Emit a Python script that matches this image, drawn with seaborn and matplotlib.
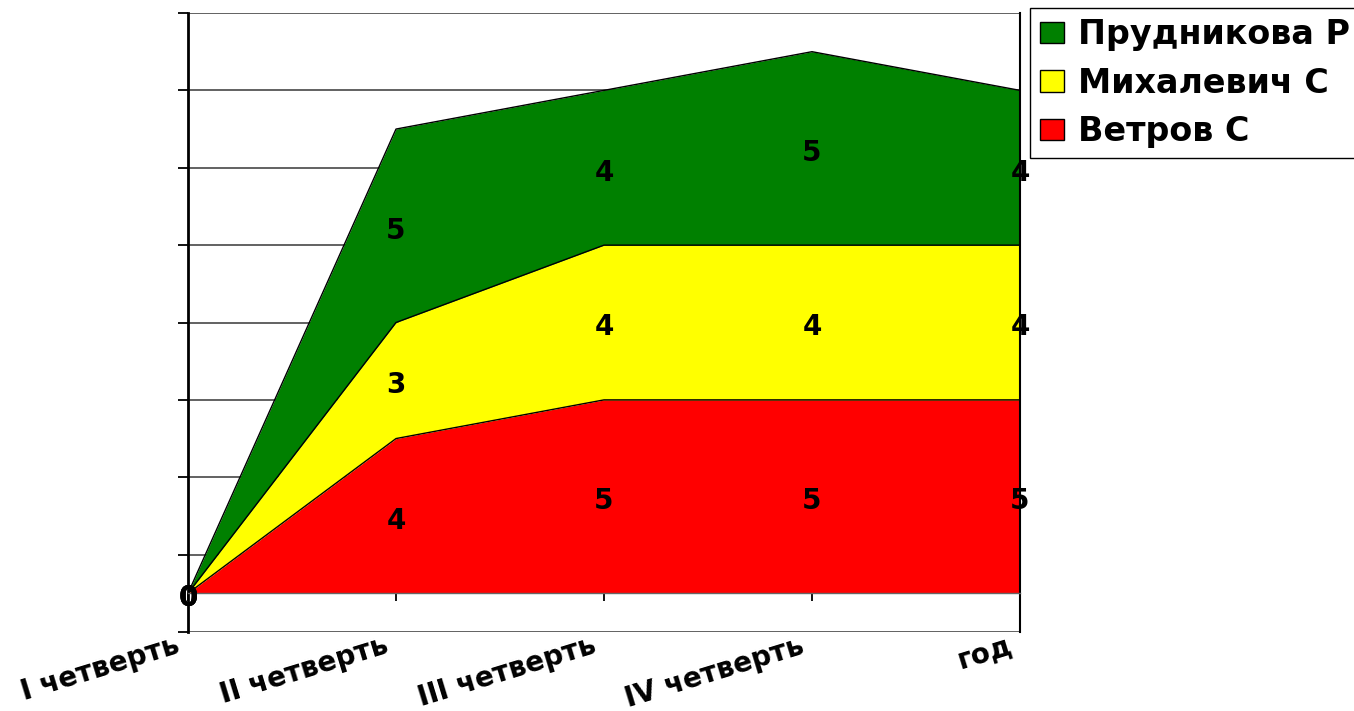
import numpy as np
import pandas as pd
import matplotlib
matplotlib.use("Agg")
import matplotlib.pyplot as plt
from matplotlib.patches import Patch
from matplotlib.transforms import ScaledTranslation
import seaborn as sns

categories = ["I четверть", "II четверть", "III четверть", "IV четверть", "год"]
series_names = ["Ветров С", "Михалевич С", "Прудникова Р"]
vetrov = [0, 4, 5, 5, 5]
mikhalevich = [0, 3, 4, 4, 4]
prudnikova = [0, 5, 4, 5, 4]
colors = ["#FF0000", "#FFFF00", "#008000"]
y_ticks = [-1, 1, 3, 5, 7, 9, 11, 13, 15]

sns.set_theme(style="white")
plt.rcParams["font.family"] = ["DejaVu Sans"]
plt.rcParams["text.color"] = "black"
plt.rcParams["xtick.color"] = "black"
plt.rcParams["ytick.color"] = "black"

W, H = 1354, 711
fig = plt.figure(figsize=(W / 100, H / 100), dpi=100)
ax = fig.add_axes([188 / W, (H - 632) / H, (1020 - 188) / W, (632 - 13) / H])

x = np.arange(len(categories))
values = [np.array(vetrov), np.array(mikhalevich), np.array(prudnikova)]
bottom = np.zeros(len(categories))
rows = []
for name, vals, col in zip(series_names, values, colors):
    top = bottom + vals
    ax.fill_between(x, bottom, top, color=col, linewidth=0, zorder=2)
    for xi, t in zip(x, top):
        rows.append({"x": xi, "y": t, "s": name})
    for xi, b, v in zip(x, bottom, vals):
        ax.annotate(f"{v}", (xi, b + v / 2), xytext=(0, -3.5), textcoords="offset points",
                    ha="center", va="center", fontsize=20, fontweight="bold",
                    color="black", zorder=5, annotation_clip=False)
    bottom = top

df = pd.DataFrame(rows)
sns.lineplot(data=df, x="x", y="y", hue="s", palette=["black"] * 3,
             legend=False, ax=ax, linewidth=1.0, zorder=3, sort=False)

ax.set_xlim(0, len(categories) - 1)
ax.set_ylim(-1, 15)
ax.set_yticks(y_ticks)
ax.set_yticklabels([])
ax.yaxis.grid(True, color="#555555", linewidth=1.3, zorder=1)
ax.set_axisbelow(True)

ax.spines["top"].set_visible(False)
ax.spines["left"].set_color("black")
ax.spines["left"].set_linewidth(2)
ax.spines["right"].set_color("black")
ax.spines["right"].set_linewidth(1.5)
ax.spines["bottom"].set_position(("data", 0))
ax.spines["bottom"].set_color("#666666")
ax.spines["bottom"].set_linewidth(1)
ax.spines["bottom"].set_zorder(4)

ax.tick_params(axis="y", left=True, direction="out", length=7, width=1.3, color="black")
ax.tick_params(axis="x", bottom=True, direction="out", length=6, width=1.3,
               color="black", pad=21.5)
ax.set_xticks(x)
ax.set_xticklabels(categories, rotation=17, ha="right", rotation_mode="anchor",
                   fontsize=20, fontweight="bold", color="black")
shift = ScaledTranslation(-13 / 100, 0, fig.dpi_scale_trans)
for lab in ax.get_xticklabels():
    lab.set_va("top")
    lab.set_transform(lab.get_transform() + shift)
ax.set_xlabel("")
ax.set_ylabel("")

handles = [Patch(facecolor=c, edgecolor="black", linewidth=1) for c in colors[::-1]]
leg = fig.legend(handles, series_names[::-1], loc="upper left",
                 bbox_to_anchor=(1030 / W, 1 - 8 / H), bbox_transform=fig.transFigure,
                 frameon=True, fancybox=False, edgecolor="black", framealpha=1,
                 prop={"size": 24, "weight": "bold", "family": "DejaVu Sans"},
                 handlelength=0.72, handleheight=0.6, handletextpad=0.42,
                 labelspacing=0.47, borderpad=0.3, borderaxespad=0)
leg.get_frame().set_linewidth(1)
for t in leg.get_texts():
    t.set_color("black")

fig.savefig("out.png", dpi=100)
